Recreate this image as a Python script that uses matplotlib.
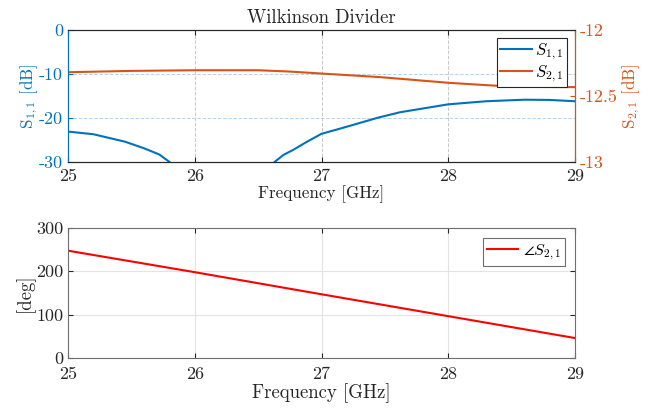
import matplotlib.pyplot as plt

plt.rcParams['font.family'] = 'serif'
plt.rcParams['font.serif'] = ['cmr10', 'DejaVu Serif']
plt.rcParams['mathtext.fontset'] = 'cm'
plt.rcParams['axes.unicode_minus'] = False
plt.rcParams['font.size'] = 12.5

# S11 magnitude [dB] (clipped below -30 by the axis)
f_s11 = [25.0, 25.2, 25.45, 25.6, 25.72, 25.8, 25.85, 26.6, 26.63, 26.7, 26.78,
         26.88, 27.0, 27.15, 27.45, 27.62, 28.0, 28.3, 28.6, 28.8, 29.0]
s11 = [-23.1, -23.7, -25.4, -26.9, -28.3, -30.0, -31.5, -31.5, -30.0, -28.4, -27.2,
       -25.5, -23.6, -22.4, -19.9, -18.7, -16.9, -16.2, -15.85, -15.9, -16.2]

# S21 magnitude [dB]
f_s21 = [25.0, 25.5, 26.0, 26.5, 26.75, 27.0, 27.46, 28.0, 28.3, 28.55, 29.0]
s21 = [-12.32, -12.31, -12.305, -12.305, -12.315, -12.33, -12.357, -12.40, -12.418, -12.431, -12.433]

# S21 phase [deg]
f_ph = [25.0, 26.0, 27.0, 28.0, 29.0]
ph = [247.6, 198.0, 147.0, 96.5, 46.0]

blue = '#0072BD'
orange = '#D95319'
dark = '#262626'
tick_fs = 13
lab_fs = 12.3

fig = plt.figure(figsize=(6.49, 4.11), dpi=100)

# ---- top: magnitude ----
ax1 = fig.add_axes([0.1048, 0.606, 0.7812, 0.321])
ax2 = ax1.twinx()
l1, = ax1.plot(f_s11, s11, color=blue, lw=1.5, label='$S_{1,1}$')
l2, = ax2.plot(f_s21, s21, color=orange, lw=1.5, label='$S_{2,1}$')
ax1.set_xlim(25, 29)
ax1.set_ylim(-30, 0)
ax2.set_ylim(-13, -12)
ax1.set_xticks([25, 26, 27, 28, 29])
ax1.set_yticks([-30, -20, -10, 0])
ax1.set_yticklabels(['-30', '-20', '-10', '0'])
ax2.set_yticks([-13, -12.5, -12])
ax2.set_yticklabels(['-13', '-12.5', '-12'])
ax1.xaxis.grid(True, color='#c8c8c8', linestyle='--', lw=0.7)
ax1.yaxis.grid(True, color='#b3d4ee', linestyle='--', lw=0.7)
ax1.set_axisbelow(True)
ax1.tick_params(axis='x', direction='in', top=True, colors=dark, labelsize=tick_fs, pad=5)
ax1.tick_params(axis='y', direction='in', colors=blue, labelsize=tick_fs)
ax2.tick_params(axis='y', direction='in', colors=orange, labelsize=tick_fs)
ax1.spines['left'].set_color(blue)
ax2.spines['left'].set_color(blue)
ax2.spines['right'].set_color(orange)
for s in ['top', 'bottom']:
    ax1.spines[s].set_color(dark)
    ax2.spines[s].set_color(dark)
ax1.set_xlabel('Frequency [GHz]', color=dark, fontsize=lab_fs, labelpad=1)
ax1.set_ylabel(r'$\mathrm{S}_{1,1}$ [dB]', color=blue, fontsize=lab_fs, labelpad=-1)
ax2.set_ylabel(r'$\mathrm{S}_{2,1}$ [dB]', color=orange, fontsize=lab_fs, labelpad=2)
ax1.set_title('Wilkinson Divider', fontsize=13.5, color=dark, pad=5)
leg = ax2.legend(handles=[l1, l2], loc='upper right', fancybox=False,
                 edgecolor=dark, framealpha=1, fontsize=12,
                 handlelength=1.9, handletextpad=0.2, borderpad=0.2,
                 labelspacing=0.1, borderaxespad=0.5)
leg.get_frame().set_linewidth(0.8)

# ---- bottom: phase ----
ax3 = fig.add_axes([0.1048, 0.129, 0.7812, 0.3163])
ax3.plot(f_ph, ph, color='red', lw=1.5, label=r'$\angle S_{2,1}$')
ax3.set_xlim(25, 29)
ax3.set_ylim(0, 300)
ax3.set_xticks([25, 26, 27, 28, 29])
ax3.set_yticks([0, 100, 200, 300])
ax3.grid(True, color='#e3e3e3', lw=0.8)
ax3.set_axisbelow(True)
ax3.tick_params(direction='in', top=True, right=True, colors=dark, labelsize=tick_fs)
ax3.tick_params(axis='x', pad=6)
for s in ax3.spines.values():
    s.set_color('#6e6e6e')
ax3.set_xlabel('Frequency [GHz]', color=dark, fontsize=13.5, labelpad=1)
ax3.set_ylabel('[deg]', color=dark, fontsize=13.5, labelpad=1)
leg3 = ax3.legend(loc='upper right', fancybox=False, edgecolor='#6e6e6e',
                  framealpha=1, fontsize=11.5, handlelength=1.9,
                  handletextpad=0.3, borderpad=0.3, borderaxespad=0.6)
leg3.get_frame().set_linewidth(0.8)

fig.savefig('out.png', dpi=100)
plt.close()
